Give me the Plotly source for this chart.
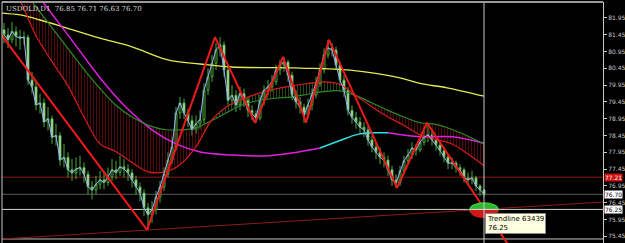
import plotly.graph_objects as go

# ---------------- data ----------------
idx = list(range(121))
close = [81.45, 81.30, 81.55, 81.40, 81.35, 81.38, 80.10, 79.90, 79.36, 79.42,
         78.85, 78.95, 78.40, 78.45, 77.72, 77.80, 77.43, 77.34, 77.45, 77.50,
         77.30, 76.92, 76.83, 77.00, 77.13, 77.05, 77.22, 77.43, 77.35, 77.52,
         77.45, 77.34, 77.13, 76.92, 76.74, 76.30, 76.09, 76.24, 76.62, 76.92,
         77.30, 77.72, 78.11, 79.12, 79.42, 79.12, 78.90, 78.62, 78.80, 78.92,
         79.80, 80.20, 80.60, 81.00, 81.15, 80.40, 79.50, 79.65, 79.36, 79.70,
         79.50, 79.20, 79.10, 78.97, 79.50, 79.80, 79.90, 80.05, 80.40, 80.55,
         80.64, 80.25, 79.66, 79.45, 79.30, 79.06, 79.36, 79.66, 80.00, 80.40,
         80.85, 81.06, 81.00, 80.55, 80.10, 79.80, 79.20, 78.99, 78.85, 78.70,
         78.62, 78.32, 78.11, 77.95, 77.80, 77.72, 77.43, 77.13, 77.04, 77.40,
         77.70, 77.87, 78.08, 78.02, 78.25, 78.40, 78.47, 78.32, 78.17, 78.00,
         77.81, 77.63, 77.63, 77.50, 77.43, 77.19, 77.13, 77.19, 76.95, 76.83,
         76.70]
high = [81.80, 81.65, 81.83, 81.70, 81.60, 81.55, 81.45, 80.35, 80.05, 79.70,
        79.55, 79.30, 79.05, 78.80, 78.55, 78.20, 77.95, 77.75, 77.80, 77.85,
        77.65, 77.40, 77.10, 77.25, 77.40, 77.35, 77.50, 77.75, 77.70, 77.85,
        77.75, 77.60, 77.45, 77.25, 77.05, 76.85, 76.45, 76.50, 76.80, 77.10,
        77.50, 77.95, 78.40, 79.30, 79.60, 79.55, 79.25, 79.05, 79.05, 79.20,
        80.00, 80.45, 80.85, 81.20, 81.38, 81.25, 80.55, 79.95, 79.80, 79.90,
        79.85, 79.60, 79.35, 79.20, 79.65, 79.95, 80.10, 80.25, 80.55, 80.70,
        80.79, 80.70, 80.35, 79.80, 79.60, 79.40, 79.55, 79.85, 80.20, 80.60,
        81.05, 81.30, 81.20, 81.10, 80.65, 80.25, 79.90, 79.35, 79.15, 79.00,
        78.85, 78.75, 78.45, 78.25, 78.10, 77.95, 77.85, 77.55, 77.30, 77.55,
        77.85, 78.05, 78.25, 78.20, 78.45, 78.60, 78.83, 78.60, 78.40, 78.25,
        78.10, 77.90, 77.80, 77.70, 77.60, 77.50, 77.35, 77.40, 77.25, 77.00,
        76.85]
low = [81.20, 81.05, 81.20, 81.10, 81.00, 81.15, 79.95, 79.70, 79.20, 79.10,
       78.70, 78.60, 78.20, 78.15, 77.55, 77.50, 77.20, 77.10, 77.15, 77.25,
       77.05, 76.70, 76.55, 76.70, 76.85, 76.85, 76.95, 77.10, 77.15, 77.25,
       77.20, 77.10, 76.90, 76.70, 76.50, 76.05, 75.64, 75.85, 76.10, 76.45,
       76.80, 77.20, 77.60, 78.00, 78.95, 78.95, 78.70, 78.45, 78.50, 78.65,
       78.80, 79.65, 80.05, 80.40, 80.80, 80.20, 79.35, 79.35, 79.15, 79.20,
       79.30, 79.00, 78.90, 78.83, 78.90, 79.35, 79.65, 79.75, 79.95, 80.25,
       80.35, 80.05, 79.50, 79.25, 79.10, 78.83, 78.95, 79.20, 79.55, 79.90,
       80.30, 80.75, 80.80, 80.40, 79.95, 79.60, 79.05, 78.80, 78.65, 78.50,
       78.40, 78.15, 77.95, 77.75, 77.60, 77.50, 77.25, 76.95, 76.89, 76.95,
       77.30, 77.60, 77.75, 77.85, 77.95, 78.15, 78.25, 78.15, 78.00, 77.85,
       77.65, 77.45, 77.45, 77.35, 77.25, 77.05, 76.95, 77.00, 76.80, 76.65,
       76.63]
first_open = 81.60
open_ = [first_open] + close[:-1]

# moving averages (candle index, price)
ma_x = list(range(0, 121, 4))
red_ma = [83.5, 82.49, 81.42, 80.65, 79.93, 79.0, 78.2, 77.97, 77.65, 77.37, 77.36,
          77.58, 78.12, 78.92, 79.33, 79.55, 79.72, 79.84, 79.93, 80.0, 80.05,
          79.97, 79.64, 79.3, 79.0, 78.75, 78.47, 78.33, 78.2, 77.9, 77.55]
green_ma = [83.5, 82.9, 82.28, 81.66, 81.04, 80.42, 79.85, 79.35, 79.0, 78.76, 78.63,
            78.62, 78.68, 78.9, 79.15, 79.38, 79.5, 79.56, 79.6, 79.68, 79.76,
            79.78, 79.64, 79.42, 79.2, 79.0, 78.83, 78.78, 78.63, 78.43, 78.2]
hatch_segments = [(0, 13, "red"), (13, 22, "green"), (22, 30, "red")]

yellow_x = [-1, 4, 9, 15.75, 24, 32, 41, 49, 57, 74, 86.5, 99, 104, 110.75, 120]
yellow_y = [82.10, 82.04, 81.89, 81.65, 81.35, 81.09, 80.70, 80.58, 80.49, 80.46,
            80.40, 80.17, 80.00, 79.87, 79.62]

mag1_x = [8, 12, 16, 20, 25, 30, 37, 43, 49, 57, 65, 72, 79]
mag1_y = [82.70, 82.07, 81.44, 80.80, 80.02, 79.35, 78.62, 78.20, 77.96, 77.87,
          77.84, 77.93, 78.08]
cyan_x = [79, 84, 88, 92, 96]
cyan_y = [78.08, 78.30, 78.47, 78.53, 78.53]
mag2_x = [96, 104, 112, 120]
mag2_y = [78.53, 78.41, 78.41, 78.22]

zig_x = [-4, 35.75, 52.75, 62.75, 69.75, 75.5, 81.25, 98.25, 105.75, 128]
zig_y = [81.98, 75.64, 81.38, 78.83, 80.79, 78.83, 81.30, 76.89, 78.83, 74.85]

trend_x = [-0.5, 149.75]
trend_y = [75.37, 76.47]

level_red = 77.21
level_bid = 76.70
level_trend = 76.25
level_bottom = 75.37
cross_x = 120

tick_vals = [75.45, 75.95, 76.45, 76.95, 77.45, 77.95, 78.45, 78.95, 79.45,
             79.95, 80.45, 80.95, 81.45, 81.95]
title_text = "USDOLD,D1  76.85 76.71 76.63 76.70"

# ---------------- figure ----------------
fig = go.Figure()

hatch_col = {"red": "#a31515", "green": "#4f8f2f"}
for a, b, c in hatch_segments:
    fig.add_trace(go.Scatter(x=ma_x[a:b + 1], y=green_ma[a:b + 1], mode="lines",
                             line=dict(width=0, shape="spline"), hoverinfo="skip",
                             showlegend=False))
    fig.add_trace(go.Scatter(x=ma_x[a:b + 1], y=red_ma[a:b + 1], mode="lines",
                             line=dict(width=0, shape="spline"), fill="tonexty",
                             fillcolor="rgba(0,0,0,0)",
                             fillpattern=dict(shape="|", size=3, solidity=0.34,
                                              fgcolor=hatch_col[c],
                                              bgcolor="rgba(0,0,0,0)"),
                             hoverinfo="skip", showlegend=False))

fig.add_trace(go.Scatter(x=yellow_x, y=yellow_y, mode="lines",
                         line=dict(color="#e8e850", width=1.3, shape="spline"),
                         showlegend=False))
fig.add_trace(go.Scatter(x=mag1_x, y=mag1_y, mode="lines",
                         line=dict(color="#e020e0", width=1.5, shape="spline"),
                         showlegend=False))
fig.add_trace(go.Scatter(x=cyan_x, y=cyan_y, mode="lines",
                         line=dict(color="#30e0e8", width=1.5, shape="spline"),
                         showlegend=False))
fig.add_trace(go.Scatter(x=mag2_x, y=mag2_y, mode="lines",
                         line=dict(color="#e020e0", width=1.5, shape="spline"),
                         showlegend=False))
fig.add_trace(go.Scatter(x=ma_x, y=green_ma, mode="lines",
                         line=dict(color="#2a8a2a", width=1.2, shape="spline"),
                         showlegend=False))
fig.add_trace(go.Scatter(x=ma_x, y=red_ma, mode="lines",
                         line=dict(color="#d41c1c", width=1.2, shape="spline"),
                         showlegend=False))

fig.add_trace(go.Candlestick(x=idx, open=open_, high=high, low=low, close=close,
                             increasing=dict(line=dict(color="#4aa83a", width=1),
                                             fillcolor="#000000"),
                             decreasing=dict(line=dict(color="#4aa83a", width=1),
                                             fillcolor="#f4f4f4"),
                             whiskerwidth=0, showlegend=False))
fig.add_trace(go.Scatter(x=idx, y=close, mode="lines",
                         line=dict(color="#9fb2ff", width=1),
                         showlegend=False))

fig.add_trace(go.Scatter(x=trend_x, y=trend_y, mode="lines",
                         line=dict(color="#8a1c1c", width=1), showlegend=False))
fig.add_trace(go.Scatter(x=zig_x, y=zig_y, mode="lines",
                         line=dict(color="#ee1a1a", width=2), showlegend=False))

# horizontal levels
for lvl, col in [(level_red, "#8e1a1a"), (level_bid, "#5a5a5a"),
                 (level_trend, "#d0d0d0"), (level_bottom, "#c8c8c8")]:
    fig.add_shape(type="line", xref="paper", x0=0, x1=1, yref="y", y0=lvl, y1=lvl,
                  line=dict(color=col, width=1), layer="below")

# ellipse marker at trendline / crosshair
ex, ey = 3.5, 0.19
fig.add_shape(type="circle", xref="x", yref="y", x0=cross_x - ex, x1=cross_x + ex,
              y0=level_trend - ey, y1=level_trend + ey,
              fillcolor="#2fb52f", line=dict(color="#3ccc3c", width=1.5))
fig.add_shape(type="path", xref="x", yref="y",
              path=(f"M {cross_x - ex},{level_trend} "
                    f"Q {cross_x - ex},{level_trend - ey * 1.33} {cross_x},{level_trend - ey * 1.33} "
                    f"Q {cross_x + ex},{level_trend - ey * 1.33} {cross_x + ex},{level_trend} Z"),
              fillcolor="#d01818", line=dict(width=0))
# crosshair
fig.add_shape(type="line", xref="x", x0=cross_x, x1=cross_x, yref="paper", y0=0, y1=1,
              line=dict(color="#c8c8c8", width=1))
fig.add_shape(type="line", xref="x", x0=cross_x - ex, x1=cross_x + ex, yref="y",
              y0=level_trend, y1=level_trend, line=dict(color="#e0e0e0", width=1))

# frame
fig.add_shape(type="line", xref="paper", yref="paper", x0=0, x1=1, y0=1, y1=1,
              line=dict(color="#9a9a9a", width=2))
fig.add_shape(type="line", xref="paper", yref="paper", x0=0, x1=0, y0=0, y1=1,
              line=dict(color="#c8c8c8", width=1))

# tooltip
fig.add_annotation(x=cross_x, y=level_trend, xref="x", yref="y", xanchor="left",
                   yanchor="top", xshift=1, yshift=-4, showarrow=False,
                   text=f"Trendline 63439<br>{level_trend:.2f}", align="left",
                   font=dict(family="DejaVu Sans", size=7, color="#000000"),
                   bgcolor="#ffffe1", bordercolor="#888888", borderwidth=1, borderpad=1)

# axis value boxes
for lvl, bg, fg in [(level_red, "#d01010", "#ffffff"), (level_bid, "#ffffff", "#000000"),
                    (level_trend, "#ffffff", "#000000")]:
    fig.add_annotation(x=1, y=lvl, xref="paper", yref="y", xanchor="left", yanchor="middle",
                       xshift=1, showarrow=False, text=f"{lvl:.2f}",
                       font=dict(family="DejaVu Sans", size=6, color=fg),
                       bgcolor=bg, borderpad=0)

fig.add_annotation(x=0, y=1, xref="paper", yref="paper", xanchor="left", yanchor="top",
                   xshift=2, yshift=-1, showarrow=False, text=title_text,
                   font=dict(family="DejaVu Serif", size=7, color="#d8d8d8"))

fig.update_layout(
    width=625, height=243,
    margin=dict(l=2, r=22, t=2, b=0),
    paper_bgcolor="#000000", plot_bgcolor="#000000",
    showlegend=False,
    xaxis=dict(range=[-0.5, 149.75], visible=False, rangeslider=dict(visible=False),
               showgrid=False, zeroline=False),
    yaxis=dict(range=[75.25, 82.426], side="right", showgrid=False, zeroline=False,
               tickvals=tick_vals, ticktext=[f"{v:.2f}" for v in tick_vals],
               ticks="outside", ticklen=3, tickcolor="#c8c8c8",
               tickfont=dict(family="DejaVu Sans", size=6, color="#c8c8c8"),
               showline=True, linecolor="#c8c8c8", linewidth=1),
)

fig.write_html("out.html")
